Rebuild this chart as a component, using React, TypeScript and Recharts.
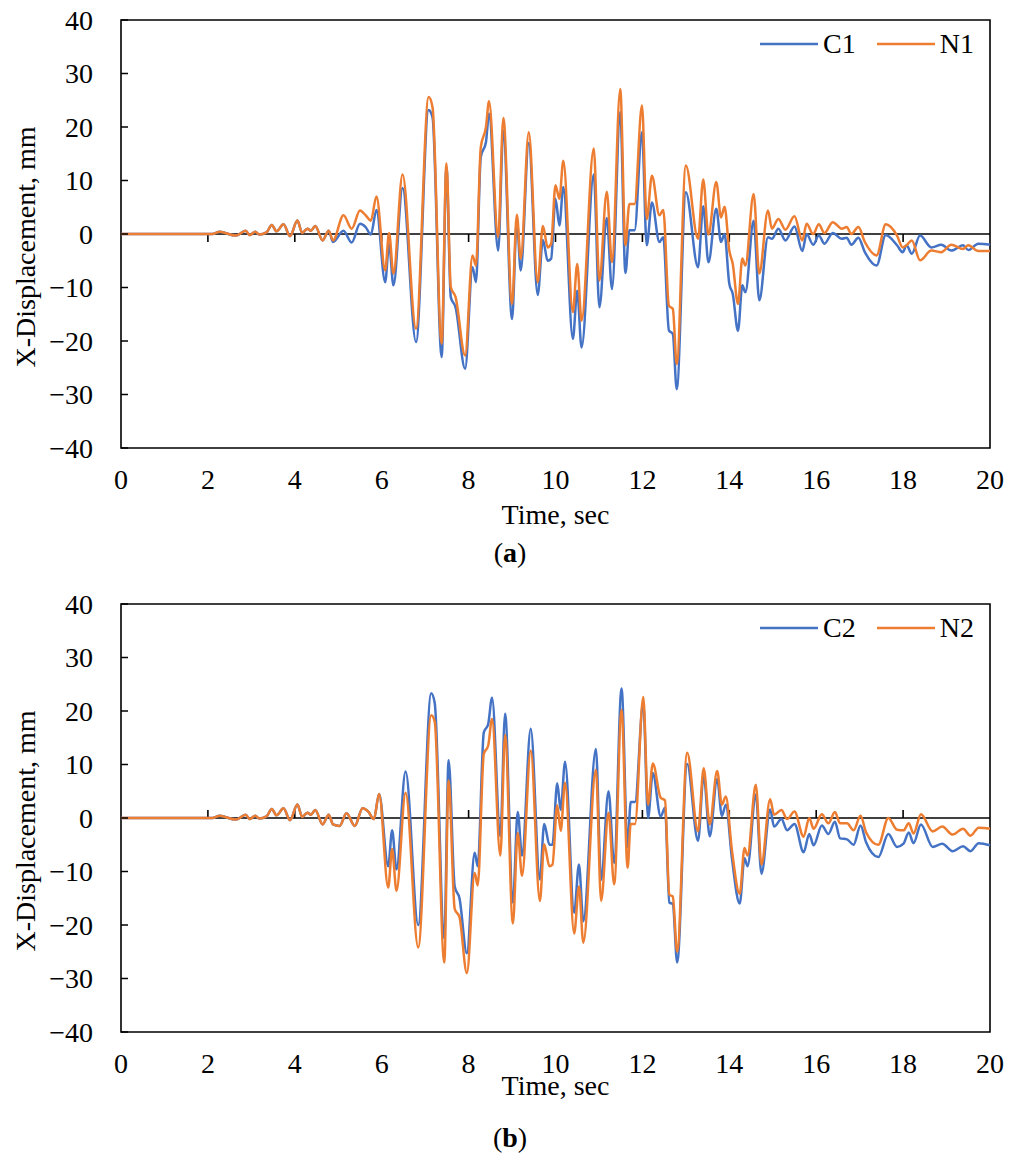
import React from 'react';
import {
  LineChart,
  Line,
  XAxis,
  YAxis,
  ReferenceLine,
  ReferenceArea,
  Legend,
  Label,
} from 'recharts';

// ---------- Panel (a): C1 / N1 ----------
const timeA = [
  0, 2.1, 2.27, 2.64, 2.87, 2.96, 3.09, 3.18, 3.35, 3.47, 3.58, 3.74, 3.89, 4.06, 4.17, 4.29, 4.37, 4.47,
  4.64, 4.78, 4.88, 5.12, 5.31, 5.5, 5.63, 5.75, 5.88, 6.08, 6.17, 6.27, 6.48, 6.79, 7.08, 7.17, 7.38,
  7.49, 7.59, 7.7, 7.92, 8.09, 8.17, 8.28, 8.4, 8.47, 8.68, 8.8, 9.0, 9.11, 9.2, 9.385, 9.59, 9.71, 9.82,
  9.9, 10.0, 10.09, 10.18, 10.4, 10.5, 10.6, 10.88, 11.01, 11.18, 11.3, 11.49, 11.61, 11.7, 11.82, 11.99,
  12.1, 12.22, 12.39, 12.48, 12.61, 12.7, 12.79, 13.0, 13.28, 13.4, 13.52, 13.7, 13.81, 13.89, 14.0, 14.08,
  14.2, 14.3, 14.37, 14.56, 14.69, 14.89, 14.98, 15.13, 15.29, 15.5, 15.68, 15.78, 15.93, 16.06, 16.19,
  16.38, 16.59, 16.7, 16.81, 16.97, 17.12, 17.39, 17.6, 17.86, 17.99, 18.08, 18.2, 18.39, 18.65, 18.88,
  19.11, 19.38, 19.5, 19.73, 20.0,
];
const c1 = [
  0, 0, 0.4, -0.3, 0.6, -0.2, 0.4, -0.1, 0.3, 1.7, 0.5, 1.8, -0.4, 2.5, 0.2, 1.0, 0.6, 1.5,
  -1.2, 0.6, -1.5, 0.6, -1.6, 1.9, 1.3, -0.1, 4.5, -9.0, -1.8, -9.6, 8.6, -20.2, 23.2, 21.8, -23.0,
  12.5, -11.8, -13.7, -25.2, -6.2, -9.0, 14.4, 17.2, 22.5, -3.1, 19.3, -15.9, 2.5, -6.8, 17.0, -11.4, -1.1, -5.0,
  -4.6, 6.6, 1.6, 8.8, -19.6, -10.6, -21.2, 11.1, -13.7, 3.0, -10.3, 22.8, -7.3, 0.7, 0.7, 19.0,
  -2.1, 5.9, -1.5, -0.6, -18.0, -18.7, -29.0, 7.8, -6.2, 5.2, -5.3, 4.7, -1.5, 0.0, -9.3, -11.2,
  -18.1, -9.6, -10.9, 2.5, -12.4, -0.6, -0.9, 1.0, -1.2, 1.4, -3.2, 0.0, -2.0, -0.3, -1.8,
  0.2, -0.9, -0.7, -2.0, -0.7, -3.4, -5.9, -0.2, -2.1, -3.4, -2.1, -3.7, -0.3, -2.5, -2.0,
  -3.1, -2.1, -3.0, -1.8, -2.0,
];
const n1 = [
  0, 0, 0.4, -0.3, 0.6, -0.2, 0.4, -0.1, 0.3, 1.7, 0.5, 1.8, -0.4, 2.5, 0.2, 1.0, 0.6, 1.5,
  -1.2, 0.6, -1.2, 3.5, 1.0, 4.4, 3.5, 2.5, 7.0, -6.8, 0.2, -7.4, 11.1, -17.7, 25.6, 23.7, -20.5,
  13.2, -9.9, -11.8, -22.7, -4.0, -5.9, 16.2, 20.0, 24.8, -0.6, 21.7, -13.1, 3.6, -4.6, 19.0, -9.0, 1.5, -2.5,
  -1.8, 9.1, 6.6, 13.7, -14.6, -5.6, -16.2, 16.0, -8.7, 7.9, -5.3, 27.1, -2.1, 5.6, 5.6, 24.0,
  2.8, 10.9, 3.5, 4.5, -13.4, -14.0, -24.3, 12.8, -0.9, 10.2, -0.1, 9.7, 3.1, 5.1, -3.1, -5.6,
  -13.1, -4.6, -5.9, 7.5, -7.4, 4.4, 1.0, 2.8, 0.8, 3.3, -1.2, 1.9, 0.0, 1.8, 0.2,
  2.2, 1.0, 1.3, 0.0, 1.3, -1.5, -4.0, 1.8, -0.3, -2.5, -2.1, -1.2, -4.9, -3.1, -3.4,
  -2.0, -2.8, -2.1, -3.2, -3.2,
];

// ---------- Panel (b): C2 / N2 ----------
const timeB = [
  0, 2.1, 2.27, 2.64, 2.87, 2.96, 3.09, 3.18, 3.35, 3.47, 3.58, 3.74, 3.89, 4.06, 4.17, 4.29, 4.37, 4.47,
  4.64, 4.78, 4.88, 5.03, 5.19, 5.38, 5.56, 5.69, 5.82, 5.94, 6.15, 6.24, 6.34, 6.55, 6.84, 7.14, 7.22,
  7.44, 7.54, 7.68, 7.79, 7.96, 8.14, 8.21, 8.35, 8.45, 8.54, 8.73, 8.84, 9.02, 9.13, 9.23, 9.43, 9.64,
  9.74, 9.86, 9.93, 10.04, 10.12, 10.22, 10.43, 10.54, 10.64, 10.93, 11.05, 11.22, 11.35, 11.52, 11.66,
  11.73, 11.83, 12.02, 12.13, 12.24, 12.42, 12.52, 12.62, 12.7, 12.8, 13.03, 13.28, 13.41, 13.55, 13.72,
  13.83, 13.92, 14.06, 14.24, 14.35, 14.42, 14.61, 14.74, 14.94, 15.03, 15.2, 15.33, 15.5, 15.71, 15.84,
  15.94, 16.13, 16.28, 16.43, 16.55, 16.71, 16.86, 17.02, 17.15, 17.43, 17.66, 17.86, 18.01, 18.13, 18.24,
  18.41, 18.68, 18.9, 19.14, 19.38, 19.55, 19.74, 20.0,
];
const c2 = [
  0, 0, 0.4, -0.3, 0.6, -0.2, 0.4, -0.1, 0.3, 1.7, 0.5, 1.8, -0.4, 2.5, 0.2, 1.0, 0.6, 1.5,
  -1.2, 0.6, -1.2, -1.5, 0.9, -1.5, 1.8, 1.2, -0.2, 4.5, -9.0, -2.3, -9.6, 8.7, -20.0, 23.3, 21.5,
  -22.5, 10.8, -12.8, -15.0, -25.3, -6.5, -9.0, 16.0, 17.5, 22.5, -3.4, 19.5, -15.8, 1.1, -7.0, 16.7, -11.5,
  -1.1, -5.0, -5.0, 6.5, 1.5, 10.5, -17.7, -8.7, -19.3, 12.9, -11.6, 5.0, -8.4, 24.2, -5.4,
  3.0, 3.0, 21.5, 0.0, 8.4, 0.3, 1.9, -15.8, -16.1, -27.0, 10.1, -4.3, 8.0, -3.4, 7.3,
  0.4, 2.5, -7.5, -16.0, -7.5, -9.0, 4.4, -10.4, 1.6, -1.6, -0.2, -2.3, -1.1, -6.4, -3.0,
  -5.1, -1.4, -3.0, -0.7, -3.8, -4.0, -5.0, -1.4, -4.6, -7.3, -3.0, -5.4, -4.8, -2.7, -4.7,
  -1.2, -5.4, -4.8, -6.2, -5.3, -6.2, -4.7, -5.1,
];
const n2 = [
  0, 0, 0.4, -0.3, 0.6, -0.2, 0.4, -0.1, 0.3, 1.7, 0.5, 1.8, -0.4, 2.5, 0.2, 1.0, 0.6, 1.5,
  -1.2, 0.6, -1.2, -1.5, 0.9, -1.5, 1.8, 1.2, -0.2, 4.5, -13.0, -5.8, -13.6, 4.7, -24.2, 19.2, 18.0,
  -27.0, 7.0, -17.0, -18.5, -29.0, -10.3, -12.6, 12.0, 13.5, 18.5, -7.0, 15.5, -19.7, -2.8, -10.8, 12.6, -15.5,
  -4.9, -9.0, -8.7, 2.4, -2.4, 6.6, -21.6, -12.8, -23.3, 9.0, -15.5, 1.0, -12.4, 20.2, -9.3,
  -1.1, -1.1, 22.6, 2.5, 10.2, 3.8, 3.3, -14.3, -14.7, -25.0, 12.2, -2.5, 9.3, -1.2, 8.8,
  2.5, 4.0, -6.0, -14.2, -5.6, -7.0, 6.2, -8.7, 3.5, 0.6, 1.5, -0.2, 1.2, -3.5, 0.0,
  -2.0, 0.7, -1.0, 1.1, -1.0, -1.0, -2.3, 0.4, -2.7, -5.0, 0.0, -2.2, -2.3, -1.0, -2.9,
  0.7, -2.5, -1.6, -3.1, -2.0, -3.3, -1.8, -2.0,
];

// ---------- Axes ----------
const xTicks = [0, 2, 4, 6, 8, 10, 12, 14, 16, 18, 20];
const yTicks = [-40, -30, -20, -10, 0, 10, 20, 30, 40];
const zeroLineTicks = [2, 4, 6, 8, 10, 12, 14, 16, 18];

const BLUE = '#4472C4';
const ORANGE = '#ED7D31';
const FONT = '"Liberation Serif", "Times New Roman", serif';
const FS = 28;

const buildRows = (t: number[], a: number[], b: number[]) =>
  t.map((tt, i) => ({ t: tt, a: a[i], b: b[i] }));

const fmtY = (v: number) => (v < 0 ? '\u2212' + Math.abs(v) : String(v));

const LegendContent = (props: any) => {
  const payload = props.payload || [];
  return (
    <div style={{ display: 'flex', alignItems: 'center', fontFamily: FONT, fontSize: FS, color: '#000', whiteSpace: 'nowrap' }}>
      {payload.map((p: any, i: number) => (
        <div key={i} style={{ display: 'flex', alignItems: 'center', marginLeft: i === 0 ? 0 : 21 }}>
          <svg width={58} height={6} style={{ display: 'block' }}>
            <line x1={0} y1={3} x2={58} y2={3} stroke={p.color} strokeWidth={2.5} />
          </svg>
          <span style={{ marginLeft: 5 }}>{p.value}</span>
        </div>
      ))}
    </div>
  );
};

const YTitle = (props: any) => {
  const vb = props.viewBox || { x: 0, y: 0, width: 0, height: 0 };
  const cx = vb.x + 25;
  const cy = vb.y + vb.height / 2 + 13;
  return (
    <text
      x={cx}
      y={cy}
      transform={`rotate(-90, ${cx}, ${cy})`}
      textAnchor="middle"
      dominantBaseline="central"
      fill="#000"
      fontSize={FS}
      fontFamily={FONT}
    >
      X-Displacement, mm
    </text>
  );
};

type PanelProps = {
  top: number;
  rows: { t: number; a: number; b: number }[];
  names: [string, string];
  tickDir: number;
  timeOffset: number;
  caption: string;
  captionTop: number;
};

const Panel = ({ top, rows, names, tickDir, timeOffset, caption, captionTop }: PanelProps) => (
  <>
    <div style={{ position: 'absolute', left: 0, top }}>
      <LineChart width={1013} height={540} data={rows} margin={{ top: 20, right: 23, left: 0, bottom: 12 }}>
        <XAxis
          type="number"
          dataKey="t"
          domain={[0, 20]}
          ticks={xTicks}
          axisLine={false}
          tickLine={false}
          tickSize={0}
          tickMargin={21}
          height={80}
          tick={{ fill: '#000', fontSize: FS, fontFamily: FONT }}
          interval={0}
        >
          <Label
            value="Time, sec"
            position="insideBottom"
            offset={timeOffset}
            style={{ fill: '#000', fontSize: FS, fontFamily: FONT }}
          />
        </XAxis>
        <YAxis
          type="number"
          domain={[-40, 40]}
          ticks={yTicks}
          width={121}
          axisLine={false}
          tickSize={-7}
          tickMargin={35}
          tickLine={{ stroke: '#000', strokeWidth: 1.5 }}
          tickFormatter={fmtY}
          tick={{ fill: '#000', fontSize: FS, fontFamily: FONT }}
          interval={0}
        >
          <Label content={YTitle} />
        </YAxis>
        <ReferenceArea x1={0} x2={20} y1={-40} y2={40} fill="none" stroke="#000" strokeWidth={1.6} ifOverflow="visible" />
        <ReferenceLine y={0} stroke="#000" strokeWidth={1.6} />
        {zeroLineTicks.map((tk) => (
          <ReferenceLine
            key={tk}
            segment={[
              { x: tk, y: 0 },
              { x: tk, y: 1.5 * tickDir },
            ]}
            stroke="#000"
            strokeWidth={1.6}
          />
        ))}
        <Legend
          layout="vertical"
          align="center"
          verticalAlign="middle"
          content={LegendContent}
          wrapperStyle={{ left: 760, top: 28, width: 245, height: 34 }}
        />
        <Line type="monotone" dataKey="a" name={names[0]} stroke={BLUE} strokeWidth={2.5} dot={false} isAnimationActive={false} />
        <Line type="monotone" dataKey="b" name={names[1]} stroke={ORANGE} strokeWidth={2.5} dot={false} isAnimationActive={false} />
      </LineChart>
    </div>
    <div
      style={{
        position: 'absolute',
        left: 0,
        top: captionTop,
        width: 1020,
        textAlign: 'center',
        fontFamily: FONT,
        fontSize: FS,
        lineHeight: '32px',
        color: '#000',
      }}
    >
      (<b>{caption}</b>)
    </div>
  </>
);

export default function App() {
  const rowsA = buildRows(timeA, c1, n1);
  const rowsB = buildRows(timeB, c2, n2);
  return (
    <div style={{ position: 'absolute', left: 0, top: 0, width: 1013, height: 1164, background: '#fff', overflow: 'hidden' }}>
      <Panel top={0} rows={rowsA} names={['C1', 'N1']} tickDir={-1} timeOffset={4} caption="a" captionTop={537} />
      <Panel top={584} rows={rowsB} names={['C2', 'N2']} tickDir={1} timeOffset={17} caption="b" captionTop={1122} />
    </div>
  );
}
